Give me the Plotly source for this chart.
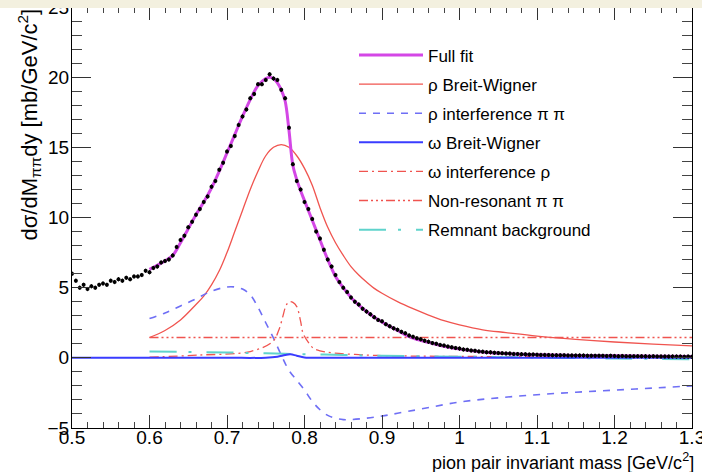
import numpy as np
import plotly.graph_objects as go

# ---------------- data ----------------
data_x_start, data_x_step = 0.5, 0.005
data_y = [
    6.0, 5.5, 5.0, 5.2, 4.9, 5.1, 5.0, 5.2, 5.3, 5.2,
    5.5, 5.4, 5.6, 5.5, 5.7, 5.6, 5.8, 5.8, 5.9, 6.2,
    6.1, 6.4, 6.5, 6.8, 6.9, 7.0, 7.3, 7.9, 8.4, 8.7,
    9.3, 9.7, 10.2, 10.6, 11.1, 11.5, 12.2, 12.6, 13.4, 13.9,
    14.7, 15.1, 15.8, 16.6, 17.2, 17.7, 18.5, 18.8, 19.5, 19.5,
    19.8, 20.2, 19.9, 19.8, 19.1, 18.5, 16.4, 13.8, 12.6, 12.0,
    11.1, 10.6, 9.9, 9.0, 8.5, 7.7, 7.0, 6.5, 5.9, 5.4,
    5.0, 4.7, 4.3, 4.0, 3.8, 3.5, 3.3, 3.1, 2.9, 2.7,
    2.6, 2.4, 2.25, 2.1, 2.0, 1.85, 1.75, 1.6, 1.5, 1.4,
    1.32, 1.22, 1.15, 1.05, 1.0, 0.92, 0.87, 0.8, 0.75, 0.7,
    0.66, 0.6, 0.57, 0.52, 0.5, 0.46, 0.44, 0.4, 0.39, 0.36,
    0.34, 0.33, 0.31, 0.3, 0.28, 0.27, 0.26, 0.25, 0.23, 0.24,
    0.22, 0.21, 0.21, 0.2, 0.19, 0.19, 0.18, 0.18, 0.17, 0.17,
    0.16, 0.17, 0.16, 0.15, 0.15, 0.14, 0.15, 0.14, 0.13, 0.14,
    0.13, 0.12, 0.13, 0.12, 0.12, 0.11, 0.12, 0.11, 0.11, 0.1,
    0.11, 0.1, 0.1, 0.1, 0.09, 0.1, 0.09, 0.09, 0.08, 0.09,
    0.08,
]
data_x = [round(data_x_start + i * data_x_step, 3) for i in range(len(data_y))]

fit_x = [0.60, 0.61, 0.62, 0.63, 0.64, 0.65, 0.66, 0.67, 0.68, 0.69,
         0.70, 0.71, 0.72, 0.73, 0.74, 0.75, 0.755, 0.76, 0.765, 0.77,
         0.775, 0.78, 0.785, 0.79, 0.795, 0.80, 0.81, 0.82, 0.83, 0.84,
         0.85, 0.86, 0.87, 0.88, 0.89, 0.90, 0.92, 0.94, 0.96, 0.98,
         1.00, 1.03, 1.06, 1.10, 1.15, 1.20, 1.25, 1.30]
fit_y = [6.3, 6.6, 6.9, 7.3, 8.2, 9.2, 10.2, 11.1, 12.1, 13.3,
         14.6, 15.9, 17.2, 18.4, 19.4, 19.9, 20.0, 19.9, 19.6, 19.1,
         18.3, 16.2, 13.7, 12.7, 11.9, 11.2, 9.8, 8.4, 7.0, 5.8,
         5.0, 4.3, 3.75, 3.3, 2.9, 2.55, 1.95, 1.4, 1.1, 0.82,
         0.62, 0.42, 0.3, 0.22, 0.17, 0.14, 0.12, 0.1]

rho_x = [0.60, 0.62, 0.64, 0.66, 0.67, 0.68, 0.69, 0.70, 0.71, 0.72, 0.73,
         0.74, 0.75, 0.76, 0.77, 0.78, 0.79, 0.80, 0.81, 0.82, 0.83,
         0.84, 0.85, 0.86, 0.87, 0.88, 0.89, 0.90, 0.92, 0.94, 0.96,
         0.98, 1.00, 1.03, 1.06, 1.10, 1.15, 1.20, 1.25, 1.30]
rho_y = [1.45, 1.95, 2.7, 3.8, 4.4, 5.2, 6.2, 7.5, 9.0, 10.5, 12.0,
         13.3, 14.4, 15.0, 15.2, 15.0, 14.4, 13.5, 12.3, 10.7, 9.3,
         8.2, 7.3, 6.5, 5.9, 5.4, 4.95, 4.6, 4.0, 3.5, 3.05,
         2.65, 2.35, 2.0, 1.8, 1.55, 1.32, 1.13, 0.98, 0.85]

rhoint_x = [0.60, 0.62, 0.64, 0.66, 0.68, 0.70, 0.71, 0.72, 0.73, 0.74,
            0.75, 0.76, 0.77, 0.78, 0.79, 0.80, 0.81, 0.82, 0.83, 0.84,
            0.85, 0.86, 0.88, 0.90, 0.92, 0.95, 1.00, 1.05, 1.10, 1.15,
            1.20, 1.25, 1.30]
rhoint_y = [2.8, 3.2, 3.7, 4.2, 4.75, 5.05, 5.05, 4.9, 4.5, 3.6,
            2.5, 1.4, 0.2, -0.9, -1.6, -2.3, -3.1, -3.7, -4.1, -4.3,
            -4.4, -4.4, -4.3, -4.15, -3.95, -3.65, -3.15, -2.85, -2.63, -2.45,
            -2.3, -2.15, -2.0]

omega_x = [0.50, 0.60, 0.70, 0.75, 0.765, 0.775, 0.782, 0.79, 0.80, 0.82, 1.00, 1.30]
omega_y = [0.0, 0.0, 0.0, 0.01, 0.08, 0.2, 0.25, 0.15, 0.03, 0.0, 0.0, 0.0]

omint_x = [0.60, 0.665, 0.73, 0.759, 0.767, 0.772, 0.776, 0.78, 0.785, 0.79,
           0.795, 0.798, 0.805, 0.811, 0.82, 0.837, 0.88, 0.923, 1.0, 1.1, 1.2, 1.3]
omint_y = [0.05, 0.2, 0.45, 1.16, 2.0, 2.94, 3.7, 4.0, 3.95, 3.65,
           2.6, 1.77, 1.1, 0.71, 0.5, 0.35, 0.2, 0.14, 0.1, 0.08, 0.06, 0.05]

nonres_x = [0.60, 1.30]
nonres_y = [1.45, 1.45]

remn_x = [0.60, 0.65, 0.70, 0.75, 0.80, 0.85, 0.90, 1.00, 1.10, 1.20, 1.30]
remn_y = [0.45, 0.42, 0.38, 0.32, 0.26, 0.2, 0.15, 0.08, 0.02, -0.05, -0.1]

x_tickvals = [0.5, 0.6, 0.7, 0.8, 0.9, 1.0, 1.1, 1.2, 1.3]
x_ticktext = ["0.5", "0.6", "0.7", "0.8", "0.9", "1", "1.1", "1.2", "1.3"]
y_tickvals = [-5, 0, 5, 10, 15, 20, 25]
y_ticktext = ["\u22125", "\u20070", "\u20075", "10", "15", "20", "25"]

# ---------------- styles ----------------
FONT = "Liberation Sans, Arial, sans-serif"
RED = "#f0544f"

fig = go.Figure()

fig.add_trace(go.Scatter(x=rho_x, y=rho_y, mode="lines", name="ρ Breit-Wigner",
                         line=dict(color=RED, width=1.3, shape="spline"),
                         legendgroup="g2", legendrank=2))
fig.add_trace(go.Scatter(x=rhoint_x, y=rhoint_y, mode="lines", name="ρ interference π π",
                         line=dict(color="#6f6ff5", width=1.6, dash="7px,7px", shape="spline"),
                         legendgroup="g3", legendrank=3))
fig.add_trace(go.Scatter(x=nonres_x, y=nonres_y, mode="lines", name="Non-resonant π π",
                         line=dict(color=RED, width=1.4,
                                   dash="9px,3px,2px,3px,2px,3px,2px,3px"),
                         legendgroup="g6", legendrank=6))
fig.add_trace(go.Scatter(x=omint_x, y=omint_y, mode="lines", name="ω interference ρ",
                         line=dict(color=RED, width=1.3, dash="9px,4px,2px,4px", shape="spline"),
                         legendgroup="g5", legendrank=5))
fig.add_trace(go.Scatter(x=remn_x, y=remn_y, mode="lines", name="Remnant background",
                         line=dict(color="#5fd3cc", width=2, dash="27px,12px,3px,15px",
                                   shape="spline"),
                         legendgroup="g7", legendrank=7))
fig.add_trace(go.Scatter(x=omega_x, y=omega_y, mode="lines", name="ω Breit-Wigner",
                         line=dict(color="#3a3cff", width=2, shape="spline"),
                         legendgroup="g4", legendrank=4))
fig.add_trace(go.Scatter(x=fit_x, y=fit_y, mode="lines", name="Full fit",
                         line=dict(color="#d447e6", width=3, shape="spline"),
                         legendgroup="g1", legendrank=1))
fig.add_trace(go.Scatter(x=data_x, y=data_y, mode="markers", showlegend=False,
                         marker=dict(color="black", size=4),
                         error_y=dict(type="constant", value=0.15, color="black",
                                      thickness=1, width=0)))

axis_common = dict(
    showgrid=False, zeroline=False, showline=True, linecolor="black", linewidth=1,
    mirror="allticks", ticks="inside", tickcolor="#333", tickmode="array",
    ticklabeloverflow="allow", automargin=False,
    tickfont=dict(family=FONT, size=19, color="black"),
)
fig.update_xaxes(range=[0.5, 1.3], tickvals=x_tickvals, ticktext=x_ticktext, ticklen=13,
                 ticklabelstandoff=-8,
                 minor=dict(dtick=0.02, tick0=0.5, ticklen=6, ticks="inside", tickcolor="#444"),
                 **axis_common)
fig.update_yaxes(range=[-5, 25], tickvals=y_tickvals, ticktext=y_ticktext, ticklen=19,
                 ticklabelstandoff=-2,
                 minor=dict(dtick=1, tick0=0, ticklen=10, ticks="inside", tickcolor="#444"),
                 **axis_common)

fig.update_layout(
    width=702, height=472,
    margin=dict(l=72, r=10, t=7, b=44, autoexpand=False),
    paper_bgcolor="white", plot_bgcolor="white",
    showlegend=True,
    legend=dict(x=(354 - 72) / 620, y=(428 - 37.5) / 421, xref="paper", yref="paper",
                xanchor="left", yanchor="top",
                font=dict(family=FONT, size=17, color="black"),
                bgcolor="rgba(0,0,0,0)", borderwidth=0,
                itemwidth=64, tracegroupgap=4, traceorder="grouped"),
    annotations=[
        dict(text="dσ/dM<sub>ππ</sub>dy [mb/GeV/c<sup>2</sup>]", textangle=-90,
             xref="paper", yref="paper", x=(28.5 - 72) / 620, y=(428 - 125) / 421,
             xanchor="center", yanchor="middle", showarrow=False,
             font=dict(family=FONT, size=22, color="black")),
        dict(text="pion pair invariant mass [GeV/c<sup>2</sup>]",
             xref="paper", yref="paper", x=1.006, y=(428 - 461) / 421,
             xanchor="right", yanchor="middle", showarrow=False,
             font=dict(family=FONT, size=18, color="black")),
    ],
    shapes=[
        dict(type="rect", xref="paper", yref="paper", x0=-0.2, x1=1.1,
             y0=1 - 1.0 / 421, y1=1.1, fillcolor="#f3f0df", line=dict(width=0),
             layer="above"),
    ],
)

fig.write_html("out.html")
